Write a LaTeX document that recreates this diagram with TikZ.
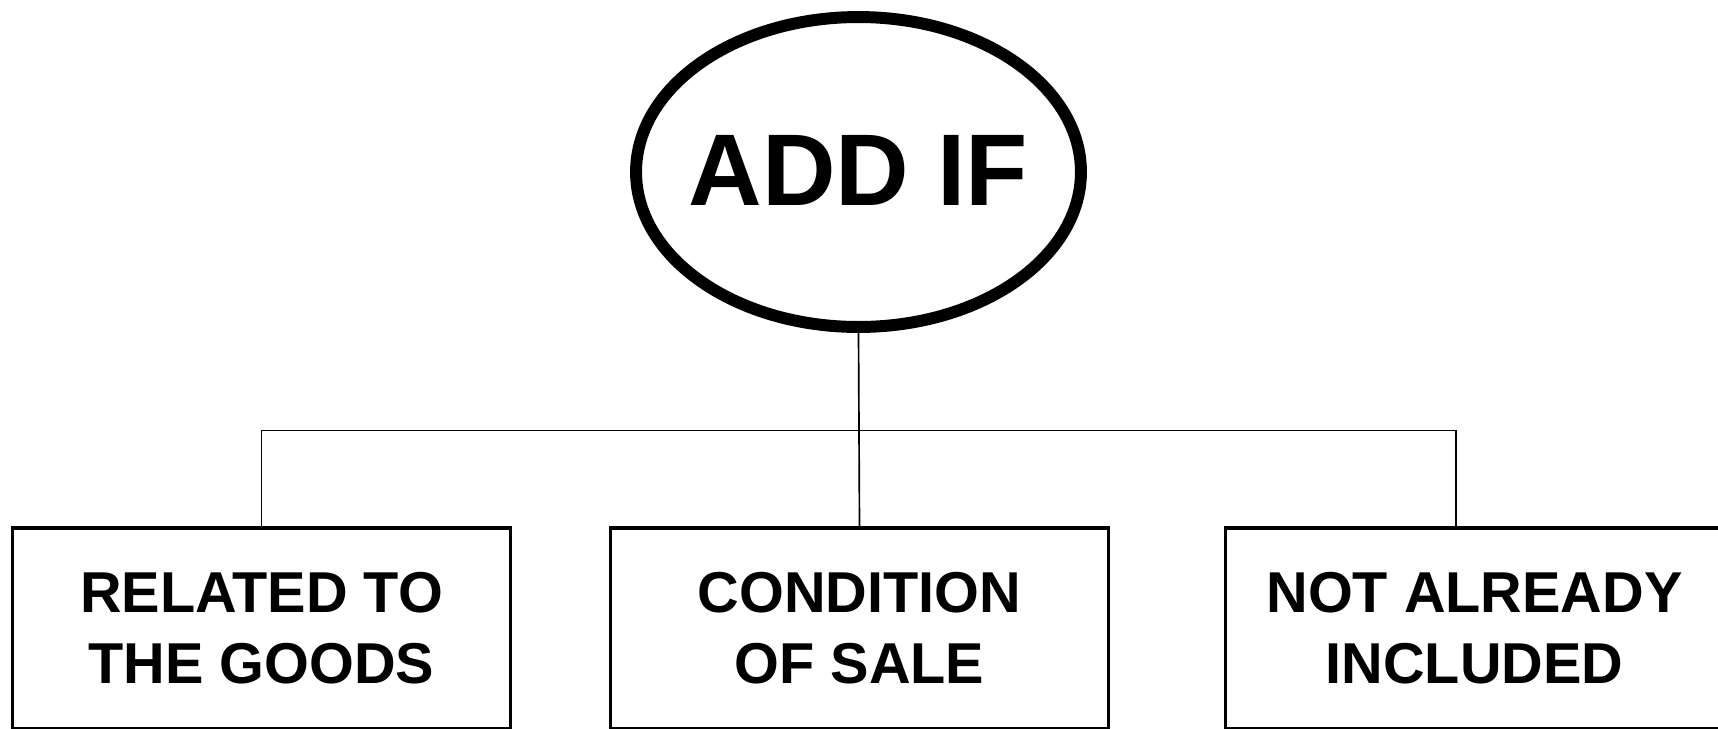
\documentclass[tikz,border=0pt]{standalone}
\usepackage{fontspec}
\setmainfont{Liberation Sans}
\usetikzlibrary{shapes.geometric}

\begin{document}
\begin{tikzpicture}[
    x={(0.02cm,0cm)}, y={(0cm,-0.02cm)},
    oval/.style={ellipse, draw, line width=6.8pt, inner sep=0pt,
      minimum width=8.9cm, minimum height=6.2cm,
      font=\fontsize{58}{70}\selectfont\bfseries},
    itembox/.style={rectangle, draw, line width=1.9pt, align=center,
      minimum width=9.95cm, minimum height=4.02cm,
      font=\fontsize{32.8}{40.4}\selectfont\bfseries},
    link/.style={line width=0.95pt}
  ]
  \useasboundingbox (0,0) rectangle (1718,728);
  \clip (0,0) rectangle (1718,728);

  % top oval
  \node[oval] (addif) at (858.5,172) {\makebox[0pt]{\raisebox{1.5pt}{ADD IF}}};

  % the three conditions
  \node[itembox] (goods) at (261.5,628.5) {RELATED TO\\THE GOODS};
  \node[itembox] (sale)  at (859.5,628.5) {CONDITION\\OF SALE};
  \node[itembox] (incl)  at (1474.5,628.5) {NOT ALREADY\\INCLUDED};

  % tree lines
  \coordinate (tap) at (1456,430.6);
  \draw[link] (addif.south) -- (sale.north);
  \draw[link] (goods.north) |- (tap) -- (tap |- incl.north);
\end{tikzpicture}
\end{document}
